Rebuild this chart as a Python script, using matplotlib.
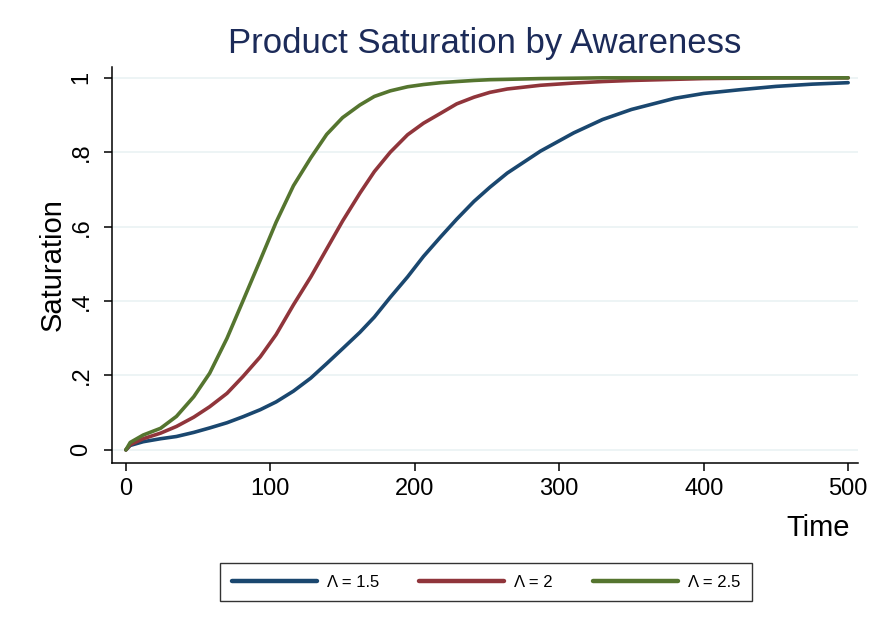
import numpy as np
import matplotlib
matplotlib.use("Agg")
import matplotlib.pyplot as plt

plt.rcParams['font.family'] = ['Liberation Sans', 'DejaVu Sans']

# readings (time, saturation share)
time = [0, 3, 12, 24, 35, 47, 58, 70, 81, 93, 104, 116, 128, 139, 150, 162, 172,
        183, 195, 206, 218, 229, 241, 252, 264, 287, 310, 330, 350, 380, 400, 425,
        450, 475, 500]
sat_15 = [0.0, 0.012, 0.022, 0.03, 0.036, 0.047, 0.059, 0.073, 0.089, 0.108, 0.129,
          0.158, 0.193, 0.232, 0.272, 0.316, 0.357, 0.41, 0.465, 0.52, 0.573, 0.62,
          0.668, 0.706, 0.744, 0.803, 0.852, 0.888, 0.915, 0.945, 0.958, 0.968, 0.977,
          0.983, 0.987]
sat_20 = [0.0, 0.014, 0.03, 0.045, 0.063, 0.088, 0.116, 0.152, 0.197, 0.25, 0.31,
          0.39, 0.465, 0.54, 0.615, 0.69, 0.748, 0.8, 0.847, 0.878, 0.905, 0.93,
          0.948, 0.961, 0.97, 0.98, 0.986, 0.99, 0.993, 0.996, 0.998, 0.999, 1.0,
          1.0, 1.0]
sat_25 = [0.0, 0.02, 0.04, 0.058, 0.09, 0.143, 0.206, 0.30, 0.40, 0.51, 0.612,
          0.71, 0.785, 0.848, 0.893, 0.927, 0.95, 0.965, 0.976, 0.982, 0.987, 0.99,
          0.993, 0.995, 0.996, 0.998, 0.999, 1.0, 1.0, 1.0, 1.0, 1.0, 1.0, 1.0, 1.0]
series_labels = ['\u039b = 1.5', '\u039b = 2', '\u039b = 2.5']
colors = ['#1a476f', '#90353b', '#55752f']

yticks = [0, 0.2, 0.4, 0.6, 0.8, 1.0]
ytick_labels = ['0', '.2', '.4', '.6', '.8', '1']
xticks = [0, 100, 200, 300, 400, 500]

fig = plt.figure(figsize=(8.74, 6.35), dpi=100)
ax = fig.add_axes([0.128, 0.271, 0.854, 0.624])

for ys, c, lab in zip([sat_15, sat_20, sat_25], colors, series_labels):
    ax.plot(time, ys, color=c, lw=2.6, label=lab, solid_capstyle='round')

ax.set_xlim(-9.7, 507)
ax.set_ylim(-0.035, 1.03)

ax.set_yticks(yticks)
ax.set_yticklabels(ytick_labels, rotation=90, va='center')
ax.set_xticks(xticks)
ax.tick_params(axis='both', labelsize=17, length=6, width=1.1, colors='black')
ax.tick_params(axis='x', pad=5)
ax.tick_params(axis='y', pad=8)

ax.grid(axis='y', color='#eaf2f3', lw=1.2)
ax.set_axisbelow(True)
for s in ['top', 'right']:
    ax.spines[s].set_visible(False)
for s in ['left', 'bottom']:
    ax.spines[s].set_linewidth(1.1)

ax.set_ylabel('Saturation', fontsize=21, labelpad=3)
ax.set_xlabel('Time', fontsize=21, loc='right')
ax.xaxis.set_label_coords(0.989, -0.128)
ax.set_title('Product Saturation by Awareness', fontsize=25, color='#1c2b59', pad=10)

leg = fig.legend(loc='center', bbox_to_anchor=(0.556, 0.083), ncol=3, fontsize=12,
                 frameon=True, fancybox=False, handlelength=5.1, handletextpad=0.6,
                 columnspacing=2.4, borderpad=0.7)
leg.get_frame().set_edgecolor('black')
leg.get_frame().set_linewidth(1.0)
for line in leg.get_lines():
    line.set_linewidth(3.2)

fig.savefig('out.png', dpi=100)
